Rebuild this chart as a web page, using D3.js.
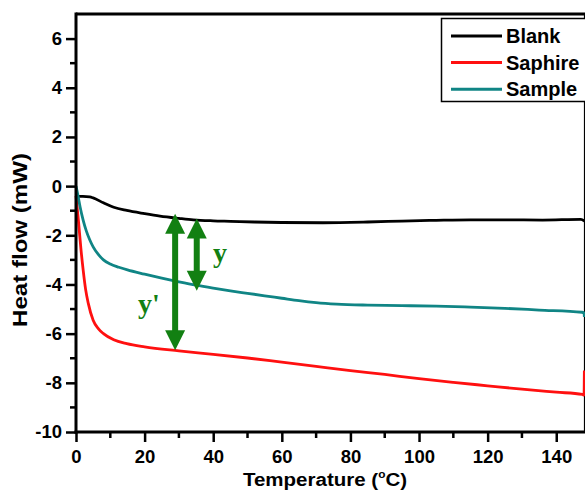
<!DOCTYPE html>
<html>
<head>
<meta charset="utf-8">
<script src="https://cdn.jsdelivr.net/npm/d3@7"></script>
<style>
  html, body { margin: 0; padding: 0; background: #fff; }
  svg { display: block; }
</style>
</head>
<body>
<svg id="chart" width="585" height="490"></svg>
<script>
// DSC heat-flow traces: [temperature °C, heat flow mW]
const blank = [
  [0, -0.42], [2, -0.42], [4, -0.44], [5, -0.48], [8, -0.68], [11, -0.86], [14.8, -0.99],
  [20, -1.12], [24.5, -1.22], [30, -1.31], [34.2, -1.37], [40, -1.41], [45, -1.43],
  [52, -1.46], [60, -1.48], [72, -1.49], [85, -1.46], [95, -1.42], [105, -1.39],
  [115, -1.37], [126.5, -1.37], [136, -1.38], [147.2, -1.35], [148.2, -1.42]
];
const saphire = [
  [0, -0.4], [0.7, -1.39], [1.4, -2.5], [2.1, -3.43], [2.8, -4.2], [3.6, -4.78],
  [5, -5.46], [6.5, -5.8], [8, -6.0], [11, -6.25], [14.8, -6.41], [20, -6.54],
  [30, -6.70], [40, -6.84], [50, -6.99], [60, -7.16], [70, -7.33], [80, -7.50],
  [90, -7.66], [100, -7.83], [110, -7.98], [120, -8.12], [130, -8.26], [140, -8.38],
  [147.6, -8.47], [148.1, -8.5], [148.2, -7.5]
];
const sample = [
  [0, 0], [0.6, -0.4], [1.2, -0.85], [2.1, -1.39], [3, -1.82], [4, -2.18],
  [5, -2.47], [6.5, -2.78], [8, -3.0], [10, -3.17], [12.5, -3.3], [15, -3.41], [20, -3.58],
  [25, -3.74], [30, -3.89], [35, -4.03], [40, -4.15], [45, -4.26], [50, -4.36],
  [55, -4.46], [60, -4.56], [65, -4.66], [70, -4.74], [76, -4.80], [85, -4.84],
  [95, -4.86], [105, -4.88], [115, -4.92], [125, -4.97], [135, -5.04], [147.5, -5.13],
  [148.1, -5.16], [148.2, -5.32]
];

const seriesNames = ["Blank", "Saphire", "Sample"];
const seriesData = [blank, saphire, sample];
const seriesColors = ["#000000", "#ff1010", "#108585"];

// Double-headed arrows marking y and y': [temperature, from, to]
const arrowY = [35.2, -1.32, -4.26];
const arrowYPrime = [28.9, -1.12, -6.68];
const arrowLabels = ["y", "y'"];

const xTicks = [0, 20, 40, 60, 80, 100, 120, 140];
const xMinor = [10, 30, 50, 70, 90, 110, 130];
const yTicks = [-10, -8, -6, -4, -2, 0, 2, 4, 6];
const yMinor = [-9, -7, -5, -3, -1, 1, 3, 5];

const sans = "'Liberation Sans', Arial, sans-serif";
const serif = "'Liberation Serif', 'Times New Roman', serif";

const svg = d3.select("#chart");
const x = d3.scaleLinear().domain([0, 148.5]).range([76, 585.4]);
const y = d3.scaleLinear().domain([-10, 7]).range([432, 14]);

// Frame (top and right edges)
svg.append("path")
  .attr("d", `M${x(0)},${y(7)}H${x(148.5)}V${y(-10)}`)
  .attr("fill", "none").attr("stroke", "#000").attr("stroke-width", 3);

// Curves
const line = d3.line().x(d => x(d[0])).y(d => y(d[1])).curve(d3.curveMonotoneX);
seriesData.forEach((s, i) => {
  svg.append("path")
    .datum(s)
    .attr("d", line)
    .attr("fill", "none")
    .attr("stroke", seriesColors[i])
    .attr("stroke-width", 2.8)
    .attr("stroke-linejoin", "round");
});

// Axes
const fmt = d => String(d);
const xAxis = d3.axisBottom(x).tickValues(xTicks).tickSize(10).tickPadding(3).tickFormat(fmt);
const yAxis = d3.axisLeft(y).tickValues(yTicks).tickSize(10).tickPadding(4).tickFormat(fmt);

const gx = svg.append("g").attr("transform", `translate(0,${y(-10)})`).call(xAxis);
gx.append("g").selectAll("line").data(xMinor).join("line")
  .attr("x1", d => x(d)).attr("x2", d => x(d)).attr("y1", 0).attr("y2", 6)
  .attr("stroke", "#000").attr("stroke-width", 2.5);

const gy = svg.append("g").attr("transform", `translate(${x(0)},0)`).call(yAxis);
gy.append("g").selectAll("line").data(yMinor).join("line")
  .attr("y1", d => y(d)).attr("y2", d => y(d)).attr("x1", 0).attr("x2", -6)
  .attr("stroke", "#000").attr("stroke-width", 2.5);

[gx, gy].forEach(g => {
  g.select(".domain").remove();
  g.selectAll(".tick line").attr("stroke-width", 2.5);
  g.selectAll(".tick text")
    .style("font-family", sans)
    .style("font-weight", "bold")
    .style("font-size", "18.5px")
    .attr("fill", "#000");
});
gx.selectAll(".tick text").attr("dy", "0.95em");
svg.append("line").attr("x1", x(0) - 1.5).attr("x2", x(148.5)).attr("y1", y(-10)).attr("y2", y(-10))
  .attr("stroke", "#000").attr("stroke-width", 3);
svg.append("line").attr("x1", x(0)).attr("x2", x(0)).attr("y1", y(7) - 1.5).attr("y2", y(-10) + 1.5)
  .attr("stroke", "#000").attr("stroke-width", 3);

// Axis titles
const xt = svg.append("text")
  .attr("transform", "translate(325,486) scale(1.08,1)")
  .attr("text-anchor", "middle")
  .style("font-family", sans).style("font-weight", "bold").style("font-size", "19px");
xt.append("tspan").text("Temperature (");
xt.append("tspan").style("font-size", "11px").attr("dy", -8).text("o");
xt.append("tspan").attr("dy", 8).text("C)");

svg.append("text")
  .attr("transform", "translate(27,240) rotate(-90)")
  .attr("text-anchor", "middle")
  .style("font-family", sans).style("font-weight", "bold").style("font-size", "19.5px")
  .attr("textLength", 174)
  .attr("lengthAdjust", "spacingAndGlyphs")
  .text("Heat flow (mW)");

// Green double arrows
const green = "#128012";
function doubleArrow(a) {
  const cx = x(a[0]), y1 = y(a[1]), y2 = y(a[2]);
  const hw = 10, hl = 20, sw = 3;
  const g = svg.append("g").attr("fill", green);
  g.append("rect").attr("x", cx - sw).attr("width", 2 * sw)
    .attr("y", y1 + hl - 2).attr("height", y2 - y1 - 2 * hl + 4);
  g.append("path").attr("d", `M${cx},${y1}L${cx + hw},${y1 + hl}L${cx - hw},${y1 + hl}Z`);
  g.append("path").attr("d", `M${cx},${y2}L${cx + hw},${y2 - hl}L${cx - hw},${y2 - hl}Z`);
}
doubleArrow(arrowYPrime);
doubleArrow(arrowY);

svg.append("text").attr("x", 213).attr("y", 262)
  .style("font-family", serif).style("font-weight", "bold").style("font-size", "28px")
  .attr("fill", green).text(arrowLabels[0]);
svg.append("text").attr("x", 138).attr("y", 313)
  .style("font-family", serif).style("font-weight", "bold").style("font-size", "28px")
  .attr("fill", green).text(arrowLabels[1]);

// Legend
const lg = svg.append("g");
lg.append("rect").attr("x", 441.5).attr("y", 18.5).attr("width", 160).attr("height", 83)
  .attr("fill", "#fff").attr("stroke", "#000").attr("stroke-width", 1.5);
seriesNames.forEach((name, i) => {
  const cy = 36 + i * 26.6;
  lg.append("line").attr("x1", 451).attr("x2", 502).attr("y1", cy).attr("y2", cy)
    .attr("stroke", seriesColors[i]).attr("stroke-width", 3);
  lg.append("text").attr("x", 506).attr("y", cy + 7)
    .style("font-family", sans).style("font-weight", "bold").style("font-size", "20px")
    .text(name);
});
</script>
</body>
</html>
